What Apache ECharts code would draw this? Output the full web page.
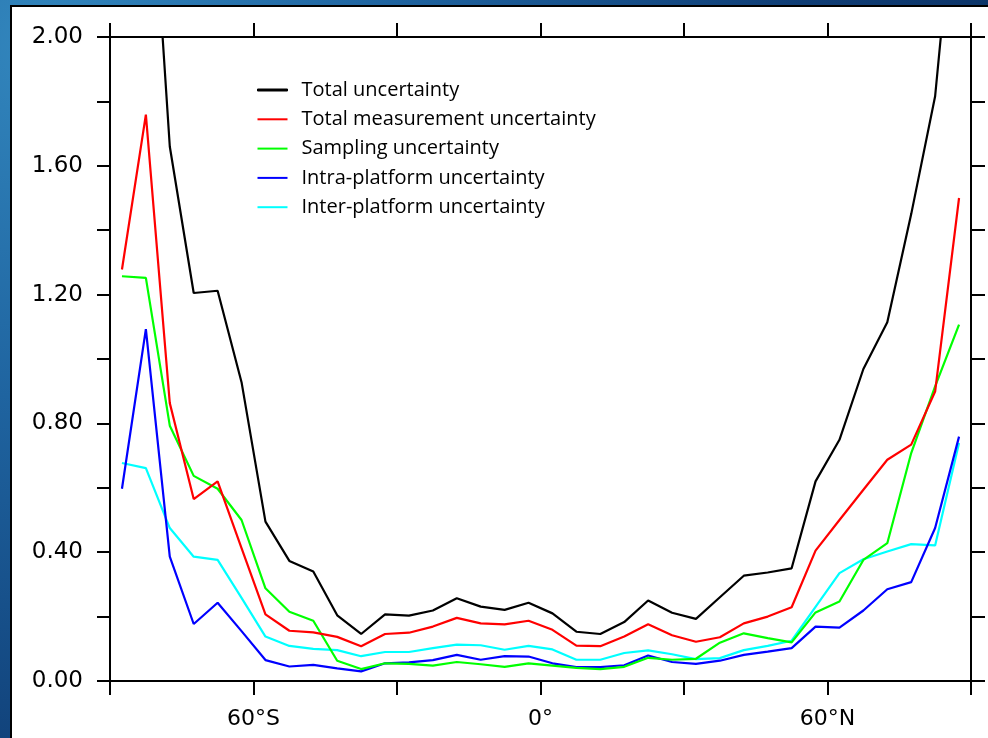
<!DOCTYPE html>
<html>
<head>
<meta charset="utf-8">
<script src="https://cdn.jsdelivr.net/npm/echarts@6/dist/echarts.min.js"></script>
<style>
  html, body { margin:0; padding:0; width:988px; height:738px; overflow:hidden;
    background: radial-gradient(circle at 4% 6%, #3286bd 0%, #1f64a0 30%, #0f3d75 65%, #0a2c5c 100%); }
  #panel { position:absolute; left:10px; top:5px; width:990px; height:745px; background:#fff;
    border-left:2.5px solid #000; border-top:2.5px solid #000; }
  #chart { position:absolute; left:0; top:0; width:988px; height:738px; }
</style>
</head>
<body>
<div id="panel"></div>
<div id="chart"></div>
<script>
// Latitude band centres (degrees, negative = south)
const latitudes = [-87.5,-82.5,-77.5,-72.5,-67.5,-62.5,-57.5,-52.5,-47.5,-42.5,-37.5,-32.5,
  -27.5,-22.5,-17.5,-12.5,-7.5,-2.5,2.5,7.5,12.5,17.5,22.5,27.5,32.5,37.5,42.5,47.5,52.5,
  57.5,62.5,67.5,72.5,77.5,82.5,87.5];

const seriesNames = ['Total uncertainty','Total measurement uncertainty','Sampling uncertainty',
  'Intra-platform uncertainty','Inter-platform uncertainty'];

const totalUnc = [3.00,2.79,1.66,1.205,1.212,0.928,0.495,0.373,0.340,0.204,0.146,0.207,
  0.203,0.219,0.257,0.231,0.221,0.243,0.210,0.153,0.146,0.183,0.250,0.212,0.193,0.260,
  0.327,0.337,0.350,0.620,0.749,0.969,1.114,1.450,1.816,2.59];

const totalMeasUnc = [1.278,1.759,0.863,0.565,0.620,0.413,0.207,0.156,0.151,0.137,0.108,0.146,
  0.150,0.169,0.196,0.179,0.176,0.187,0.159,0.110,0.108,0.138,0.176,0.142,0.122,0.136,
  0.179,0.200,0.229,0.405,0.500,0.594,0.687,0.734,0.899,1.500];

const samplingUnc = [1.257,1.252,0.793,0.637,0.597,0.500,0.288,0.215,0.187,0.063,0.037,0.055,
  0.053,0.048,0.059,0.052,0.044,0.055,0.048,0.041,0.037,0.044,0.072,0.066,0.069,0.119,
  0.148,0.133,0.120,0.213,0.247,0.376,0.428,0.708,0.915,1.107];

const intraUnc = [0.597,1.093,0.386,0.177,0.243,0.155,0.065,0.045,0.050,0.039,0.030,0.055,
  0.058,0.065,0.081,0.066,0.077,0.076,0.055,0.043,0.043,0.049,0.079,0.059,0.053,0.063,
  0.081,0.091,0.102,0.169,0.166,0.219,0.285,0.307,0.475,0.759];

const interUnc = [0.677,0.661,0.475,0.386,0.376,0.258,0.138,0.109,0.100,0.096,0.077,0.090,
  0.090,0.102,0.113,0.111,0.097,0.109,0.098,0.066,0.066,0.087,0.095,0.083,0.068,0.071,
  0.096,0.109,0.125,0.230,0.335,0.378,0.402,0.425,0.421,0.739];

const seriesColors = ['#000000','#ff0000','#00ff00','#0000ff','#00ffff'];

// Tick labels
const xTickLabels = { '-60':'60°S', '0':'0°', '60':'60°N' };
const yTickLabels = ['0.00','0.40','0.80','1.20','1.60','2.00'];

const allValues = [totalUnc, totalMeasUnc, samplingUnc, intraUnc, interUnc];

const lineSt = { color:'#000', width:2 };

const chart = echarts.init(document.getElementById('chart'), null, { renderer:'canvas' });

chart.setOption({
  backgroundColor:'transparent',
  animation:false,
  grid:{ left:110, right:17, top:37, bottom:57, containLabel:false },
  legend:{
    orient:'vertical', left:257, top:80, padding:0,
    itemWidth:30, itemHeight:2, itemGap:9.3,
    textStyle:{ fontFamily:'Open Sans', fontSize:20, color:'#000', lineHeight:20, padding:[0,0,0,9] },
    data: seriesNames.map((n,i)=>({
      name:n, icon:'rect',
      itemStyle:{ color:seriesColors[i], borderColor:seriesColors[i], borderWidth: i===0 ? 1 : 0 }
    }))
  },
  xAxis:[
    { type:'value', min:-90, max:90, interval:30, position:'bottom',
      axisLine:{ show:true, onZero:false, lineStyle:lineSt },
      axisTick:{ show:true, inside:false, length:14, lineStyle:lineSt },
      axisLabel:{ fontFamily:'DejaVu Sans', fontSize:22, color:'#000', margin:27,
        showMinLabel:true, showMaxLabel:true,
        formatter:v => (xTickLabels[String(Math.round(v))] || '') },
      splitLine:{ show:false } },
    { type:'value', min:-90, max:90, interval:30, position:'top',
      axisLine:{ show:true, onZero:false, lineStyle:lineSt },
      axisTick:{ show:true, inside:false, length:14, lineStyle:lineSt },
      axisLabel:{ show:false }, splitLine:{ show:false } }
  ],
  yAxis:[
    { type:'value', min:0, max:2, interval:0.2, position:'left',
      axisLine:{ show:true, onZero:false, lineStyle:lineSt },
      axisTick:{ show:true, inside:false, length:13, lineStyle:lineSt },
      axisLabel:{ fontFamily:'DejaVu Sans', fontSize:23, color:'#000', margin:27,
        formatter:v => { const k = Math.round(v*10); return k % 4 === 0 ? yTickLabels[k/4] : ''; } },
      splitLine:{ show:false } },
    { type:'value', min:0, max:2, interval:0.2, position:'right',
      axisLine:{ show:true, onZero:false, lineStyle:lineSt },
      axisTick:{ show:true, inside:false, length:14, lineStyle:lineSt },
      axisLabel:{ show:false }, splitLine:{ show:false } }
  ],
  series: seriesNames.map((n,i)=>({
    name:n, type:'line', xAxisIndex:0, yAxisIndex:0,
    showSymbol:false, symbol:'none', clip:true,
    lineStyle:{ color:seriesColors[i], width:2.2 },
    itemStyle:{ color:seriesColors[i] },
    z: 10 - i,
    data: latitudes.map((x,j)=>[x, allValues[i][j]])
  }))
});
</script>
</body>
</html>
